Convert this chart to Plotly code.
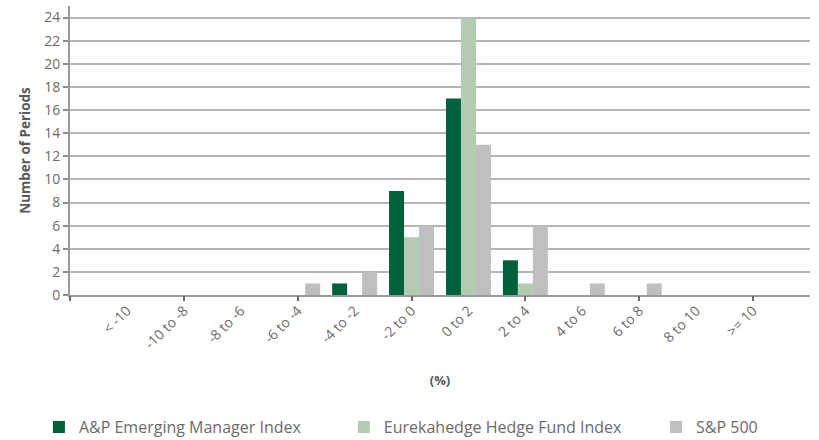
import plotly.graph_objects as go

categories = ["< -10", "-10 to -8", "-8 to -6", "-6 to -4", "-4 to -2", "-2 to 0",
              "0 to 2", "2 to 4", "4 to 6", "6 to 8", "8 to 10", ">= 10"]
ap_emerging = [0, 0, 0, 0, 1, 9, 17, 3, 0, 0, 0, 0]
eurekahedge = [0, 0, 0, 0, 0, 5, 24, 1, 0, 0, 0, 0]
sp500 = [0, 0, 0, 1, 2, 6, 13, 6, 1, 1, 0, 0]
y_ticks = list(range(0, 25, 2))

series = [
    ("A&P Emerging Manager Index", ap_emerging, "#00613A", "legend", -0.042),
    ("Eurekahedge Hedge Fund Index", eurekahedge, "#B2CBB2", "legend2", 0.370),
    ("S&P 500", sp500, "#BFBFBF", "legend3", 0.792),
]

xpos = list(range(len(categories)))
FONT = "Open Sans"
TXT = "#6b6b6b"
LEG_Y = -0.457

fig = go.Figure()
for name, vals, col, leg, _ in series:
    fig.add_trace(go.Bar(x=xpos, y=vals, name=name, legend=leg,
                         marker=dict(color=col, line=dict(width=0))))

# invisible trace for the secondary (tick-mark) axis
fig.add_trace(go.Scatter(x=[-1], y=[0], xaxis="x2", mode="markers",
                         marker=dict(opacity=0), showlegend=False, hoverinfo="skip"))

legends = {}
for name, vals, col, leg, lx in series:
    legends[leg] = dict(
        orientation="h", x=lx, xanchor="left", y=LEG_Y, yanchor="middle",
        font=dict(size=16, color=TXT, family=FONT), bgcolor="rgba(0,0,0,0)",
    )

fig.update_layout(
    width=819, height=440,
    margin=dict(l=70, r=9, t=6, b=145, autoexpand=False),
    paper_bgcolor="white", plot_bgcolor="white",
    barmode="group", bargap=0.21, bargroupgap=0,
    font=dict(family=FONT, color=TXT, size=13),
    xaxis=dict(
        range=[-1, 12], tickmode="array", tickvals=xpos, ticktext=categories,
        tickangle=-45, ticks="", showgrid=False, zeroline=False,
        showline=True, linecolor="#999999", linewidth=2,
        tickfont=dict(size=14, color=TXT, family=FONT),
        title=dict(text="<b>(%)</b>", font=dict(size=13, color="#595959", family=FONT), standoff=24),
    ),
    xaxis2=dict(
        overlaying="x", anchor="y", side="bottom", range=[-1, 12],
        tickmode="array", tickvals=[-1, 1, 3, 5, 7, 9, 11], showticklabels=False,
        ticks="outside", ticklen=5, tickwidth=2, tickcolor="#6b6b6b",
        showgrid=False, zeroline=False, showline=False,
    ),
    yaxis=dict(
        range=[0, 25], tickmode="array", tickvals=y_ticks,
        showgrid=True, gridcolor="#b4b4b4", gridwidth=1.5,
        zeroline=False, showline=True, linecolor="#999999", linewidth=2,
        ticks="outside", ticklen=5, tickcolor="#8c8c8c", tickwidth=1.5,
        tickfont=dict(size=14, color=TXT, family=FONT),
        title=dict(text="<b>Number of Periods</b>", font=dict(size=13.5, color="#595959", family=FONT), standoff=10),
    ),
    showlegend=True,
    **legends,
)

fig.write_html("out.html")
